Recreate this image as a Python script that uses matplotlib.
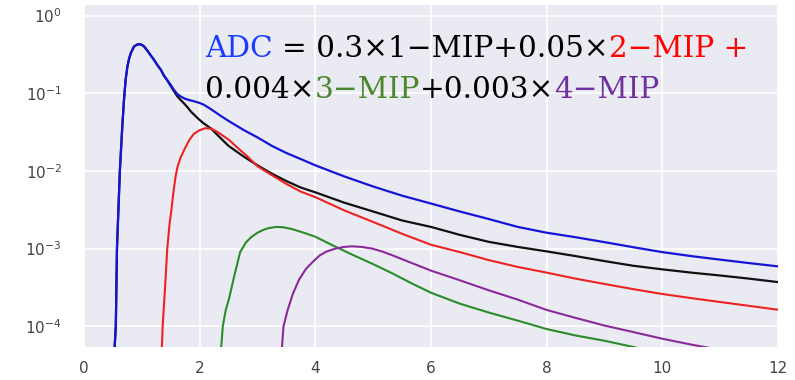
import matplotlib
matplotlib.use("Agg")
import matplotlib.pyplot as plt
import seaborn as sns

# ---- data ----
blue_x = [0.52, 0.55, 0.57, 0.62, 0.66, 0.69, 0.72, 0.75, 0.78, 0.81, 0.865, 0.91, 0.95, 1.0, 1.04,
          1.1, 1.15, 1.21, 1.27, 1.33, 1.38, 1.44, 1.50, 1.55, 1.61, 1.67, 1.73, 1.81, 1.90, 2.0, 2.075,
          2.2, 2.35, 2.5, 2.75, 3.0, 3.25, 3.5, 3.75, 4.0, 4.5, 5.0, 5.5, 6.0, 6.5, 7.0, 7.5, 8.0, 8.5,
          9.0, 9.5, 10.0, 10.5, 11.0, 11.5, 12.0]
blue_y = [4e-5, 1e-4, 1e-3, 1e-2, 0.035, 0.08, 0.15, 0.22, 0.28, 0.33, 0.40, 0.42, 0.43, 0.42, 0.40,
          0.35, 0.31, 0.27, 0.23, 0.20, 0.17, 0.148, 0.128, 0.112, 0.098, 0.091, 0.086, 0.082, 0.079,
          0.075, 0.071, 0.062, 0.052, 0.044, 0.034, 0.027, 0.021, 0.017, 0.0142, 0.0118, 0.0085,
          0.0063, 0.0048, 0.0038, 0.003, 0.0024, 0.0019, 0.0016, 0.0014, 0.00121, 0.00104, 0.0009,
          0.0008, 0.00072, 0.00065, 0.00059]

black_x = [0.52, 0.55, 0.57, 0.62, 0.66, 0.69, 0.72, 0.75, 0.78, 0.81, 0.865, 0.91, 0.95, 1.0, 1.04,
           1.1, 1.15, 1.21, 1.27, 1.33, 1.38, 1.44, 1.50, 1.55, 1.61, 1.67, 1.73, 1.79, 1.85, 1.95,
           2.05, 2.2, 2.35, 2.5, 2.75, 3.0, 3.25, 3.5, 3.75, 4.0, 4.5, 5.0, 5.5, 6.0, 6.5, 7.0, 7.5,
           8.0, 8.5, 9.0, 9.5, 10.0, 10.5, 11.0, 11.5, 12.0]
black_y = [4e-5, 1e-4, 1e-3, 1e-2, 0.035, 0.08, 0.15, 0.22, 0.28, 0.33, 0.40, 0.42, 0.43, 0.42, 0.40,
           0.35, 0.31, 0.27, 0.23, 0.20, 0.17, 0.146, 0.124, 0.108, 0.092, 0.082, 0.074, 0.066, 0.058,
           0.049, 0.042, 0.035, 0.027, 0.021, 0.0155, 0.0118, 0.0092, 0.0074, 0.0061, 0.0053, 0.0039,
           0.003, 0.0023, 0.0019, 0.0015, 0.00122, 0.00105, 0.00092, 0.0008, 0.00069, 0.0006, 0.00054,
           0.00049, 0.00045, 0.00041, 0.00037]

red_x = [1.34, 1.36, 1.40, 1.44, 1.48, 1.51, 1.55, 1.585, 1.62, 1.67, 1.73, 1.82, 1.90, 2.0, 2.1, 2.2,
         2.3, 2.4, 2.51, 2.65, 2.8, 3.0, 3.25, 3.5, 3.75, 4.0, 4.5, 5.0, 5.5, 6.0, 6.5, 7.0, 7.5, 8.0,
         8.5, 9.0, 9.5, 10.0, 10.5, 11.0, 11.5, 12.0]
red_y = [4e-5, 1e-4, 3e-4, 1e-3, 2.1e-3, 3.1e-3, 5.6e-3, 8.6e-3, 0.0115, 0.0148, 0.0185, 0.025, 0.030,
         0.0335, 0.0355, 0.035, 0.032, 0.0285, 0.025, 0.020, 0.016, 0.0115, 0.0088, 0.0068, 0.0054,
         0.0046, 0.0031, 0.0022, 0.00155, 0.00112, 0.0009, 0.00071, 0.00058, 0.00049, 0.00041,
         0.00035, 0.0003, 0.00026, 0.00023, 0.000205, 0.000183, 0.000163]

green_x = [2.36, 2.40, 2.45, 2.51, 2.6, 2.7, 2.8, 2.9, 3.0, 3.1, 3.2, 3.33, 3.45, 3.6, 3.8, 4.0, 4.3,
           4.63, 5.0, 5.33, 5.67, 6.0, 6.5, 7.0, 7.5, 8.0, 8.5, 9.0, 9.5, 9.8]
green_y = [4e-5, 1e-4, 1.6e-4, 2.3e-4, 4.5e-4, 9e-4, 1.2e-3, 1.42e-3, 1.6e-3, 1.74e-3, 1.84e-3, 1.9e-3,
           1.88e-3, 1.78e-3, 1.6e-3, 1.42e-3, 1.1e-3, 8.4e-4, 6.3e-4, 4.8e-4, 3.55e-4, 2.7e-4, 1.95e-4,
           1.5e-4, 1.18e-4, 9.2e-5, 7.6e-5, 6.5e-5, 5.4e-5, 4.8e-5]

purple_x = [3.41, 3.45, 3.52, 3.61, 3.72, 3.84, 3.96, 4.08, 4.2, 4.35, 4.5, 4.63, 4.8, 4.98, 5.15,
            5.33, 5.5, 5.67, 6.0, 6.5, 7.0, 7.5, 8.0, 8.5, 9.0, 9.5, 10.0, 10.5, 10.85, 11.0]
purple_y = [4e-5, 1e-4, 1.6e-4, 2.6e-4, 4e-4, 5.5e-4, 6.8e-4, 8.2e-4, 9.2e-4, 1.0e-3, 1.05e-3,
            1.07e-3, 1.05e-3, 1.0e-3, 9.2e-4, 8.2e-4, 7.3e-4, 6.5e-4, 5.2e-4, 3.9e-4, 2.9e-4, 2.2e-4,
            1.62e-4, 1.28e-4, 1.02e-4, 8.4e-5, 6.9e-5, 5.8e-5, 5.2e-5, 4.9e-5]

x_ticks = [0, 2, 4, 6, 8, 10, 12]
y_ticks = [1e-4, 1e-3, 1e-2, 1e-1, 1e0]

line1 = [("ADC", "#1a3cff"), (" = 0.3×1−MIP+0.05×", "black"), ("2−MIP +", "#ff0000")]
line2 = [("0.004×", "black"), ("3−MIP", "#4b872d"), ("+0.003×", "black"), ("4−MIP", "#7030a0")]

# ---- figure ----
sns.set_style("darkgrid")
plt.rcParams['font.family'] = ['DejaVu Sans']
W, H = 795, 380
fig = plt.figure(figsize=(W / 100, H / 100), dpi=100)
ax = fig.add_axes([84 / W, 1 - 347 / H, (778 - 84) / W, (347 - 5) / H])
ax.set_facecolor("#eaeaf2")

ax.plot(black_x, black_y, color="#111111", lw=1.6)
ax.plot(red_x, red_y, color="#ee2222", lw=1.5)
ax.plot(green_x, green_y, color="#2a8c2a", lw=1.5)
ax.plot(purple_x, purple_y, color="#8a2a9a", lw=1.5)
ax.plot(blue_x, blue_y, color="#1515d8", lw=1.6)

ax.set_yscale("log")
ax.set_xlim(0, 12)
ax.set_ylim(5.4e-5, 1.37)
ax.set_xticks(x_ticks)
ax.set_yticks(y_ticks)
ax.minorticks_off()
ax.grid(True, color="white", lw=1.2)
ax.tick_params(axis="both", length=0, labelsize=11, colors="#444444")
ax.tick_params(axis="x", pad=10)
ax.tick_params(axis="y", pad=16)
for s in ax.spines.values():
    s.set_visible(False)

# ---- multicolour formula ----
fig.canvas.draw()
r = fig.canvas.get_renderer()
FAM = "DejaVu Serif"


def width(s, size):
    t = fig.text(0, 0, s, fontsize=size, family=FAM)
    w = t.get_window_extent(r).width
    t.remove()
    return w


full1 = "".join(p for p, _ in line1)
size = 20 * 543 / width(full1, 20)


def draw_line(parts, x0, base):
    prefix = ""
    for seg, col in parts:
        lead = len(seg) - len(seg.lstrip(" "))
        pre = prefix + seg[:lead]
        body = seg.lstrip(" ")
        c = body[0]
        xoff = width(pre + c, size) - width(c, size) if pre else 0.0
        fig.text((x0 + xoff) / W, 1 - base / H, body, color=col, fontsize=size,
                 family=FAM, ha="left", va="baseline")
        prefix += seg


draw_line(line1, 205, 57)
draw_line(line2, 205, 98)

fig.savefig("out.png", dpi=100)
